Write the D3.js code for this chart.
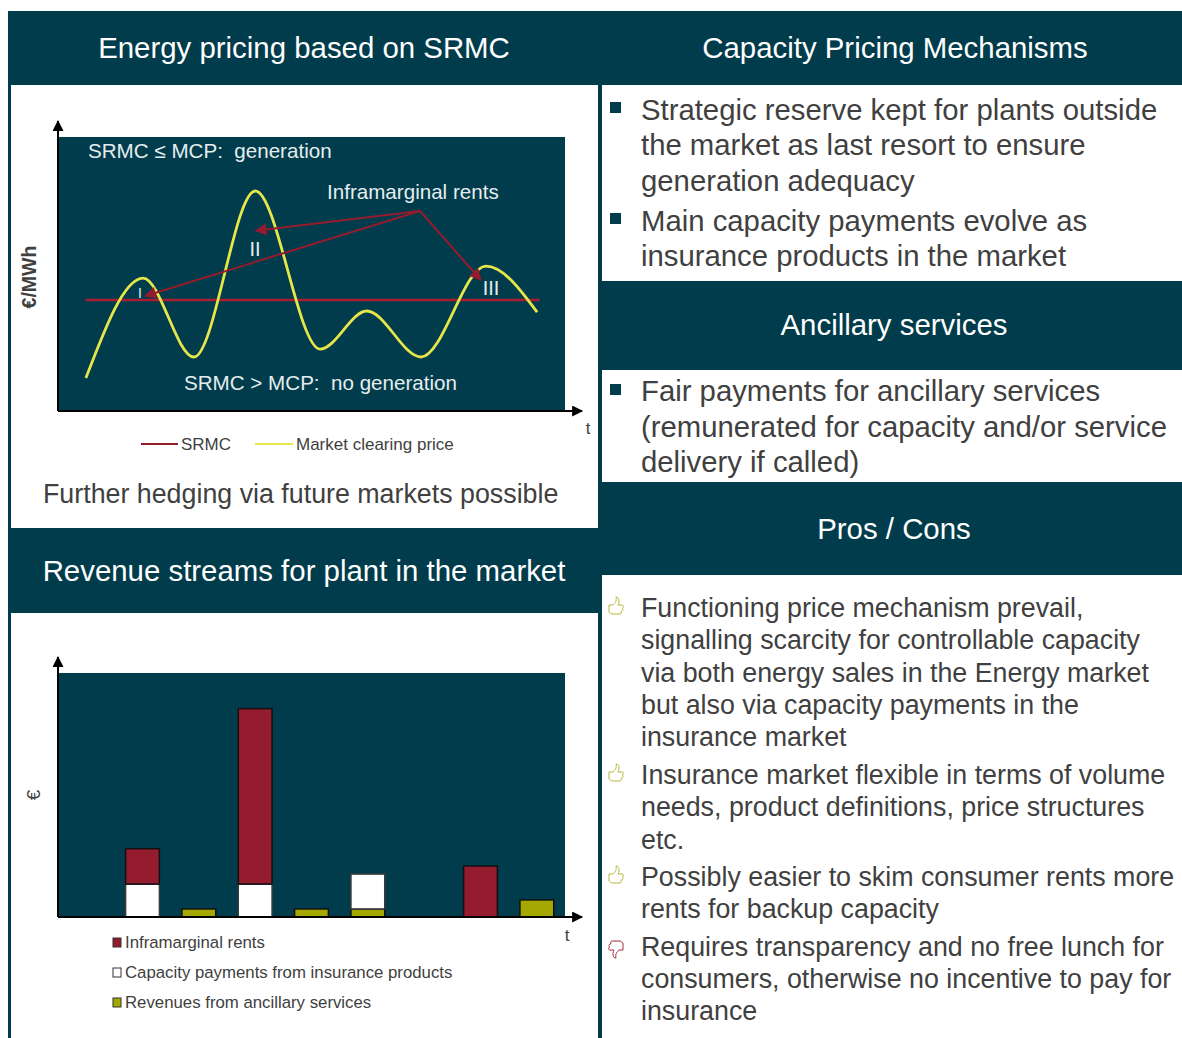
<!DOCTYPE html>
<html>
<head>
<meta charset="utf-8">
<script src="https://cdn.jsdelivr.net/npm/d3@7"></script>
<style>
  html, body { margin: 0; background: #fff; }
  svg { display: block; }
  text { font-family: "Liberation Sans", Arial, sans-serif; white-space: pre; }
</style>
</head>
<body>
<div id="chart"></div>
<script>
// price curve, axes run 0-100 in both directions
const priceTime = [5.5, 16.8, 26.8, 38.9, 51.7, 60.9, 71.6, 84.4, 94.5];
const priceValue = [12, 48.5, 19.7, 80.3, 22.6, 36.5, 19.7, 52.9, 36.1];
const srmcTime = [5.4, 95];
const srmcValue = [40.5, 40.5];

// arrows from the "Inframarginal rents" label
const rentSource = [71.4, 73];
const rentTargets = [[17.2, 42], [39, 65.8], [83.4, 47.8]];

// stacked revenue bars, slot 0 and 6 are empty
const slots = ["t0", "t1", "t2", "t3", "t4", "t5", "t6", "t7", "t8"];
const capacity = [0, 13.5, 0, 13.5, 0, 14.3, 0, 0, 0];
const rents = [0, 14.5, 0, 71.9, 0, 0, 0, 20.9, 0];
const ancillary = [0, 0, 3.3, 0, 3.3, 3.3, 0, 0, 7];

const barLegend = ["Inframarginal rents", "Capacity payments from insurance products", "Revenues from ancillary services"];

const reserveLines = ["Strategic reserve kept for plants outside", "the market as last resort to ensure", "generation adequacy"];
const paymentLines = ["Main capacity payments evolve as", "insurance products in the market"];
const ancillaryLines = ["Fair payments for ancillary services", "(remunerated for capacity and/or service", "delivery if called)"];
const prosCons = [
    { good: true, lines: ["Functioning price mechanism prevail,", "signalling scarcity for controllable capacity", "via both energy sales in the Energy market", "but also via capacity payments in the", "insurance market"] },
    { good: true, lines: ["Insurance market flexible in terms of volume", "needs, product definitions, price structures", "etc."] },
    { good: true, lines: ["Possibly easier to skim consumer rents more", "rents for backup capacity"] },
    { good: false, lines: ["Requires transparency and no free lunch for", "consumers, otherwise no incentive to pay for", "insurance"] }
];

const dark = "#003c4b";
const crimson = "#951b2e";
const olive = "#a5a800";
const grey = "#404040";
const labelColor = "#e6edef";

const width = 1182;
const height = 1038;

const svg = d3.select("#chart").append("svg")
    .attr("width", width)
    .attr("height", height)
    .attr("viewBox", `0 0 ${width} ${height}`);

const defs = svg.append("defs");
function addMarker(id, color, w, h) {
    defs.append("marker")
        .attr("id", id)
        .attr("viewBox", "0 0 10 10")
        .attr("refX", 9)
        .attr("refY", 5)
        .attr("markerUnits", "userSpaceOnUse")
        .attr("markerWidth", w)
        .attr("markerHeight", h)
        .attr("orient", "auto")
        .append("path")
        .attr("d", "M0,0L10,5L0,10Z")
        .attr("fill", color);
}
addMarker("axis-arrow", "#000", 12, 11);
addMarker("rent-arrow", crimson, 14, 12);

// background bands
const bands = [
    [8, 11, 1174, 74],
    [8, 85, 3, 953],
    [598, 85, 4, 953],
    [8, 528, 590, 85],
    [602, 281, 580, 89],
    [602, 482, 580, 93]
];
svg.append("g").selectAll("rect")
    .data(bands)
    .enter()
    .append("rect")
    .attr("x", d => d[0])
    .attr("y", d => d[1])
    .attr("width", d => d[2])
    .attr("height", d => d[3])
    .attr("fill", dark);

const headers = [
    ["Energy pricing based on SRMC", 304, 58],
    ["Capacity Pricing Mechanisms", 895, 58],
    ["Revenue streams for plant in the market", 304, 581],
    ["Ancillary services", 894, 335],
    ["Pros / Cons", 894, 539]
];
svg.append("g").selectAll("text")
    .data(headers)
    .enter()
    .append("text")
    .attr("x", d => d[1])
    .attr("y", d => d[2])
    .attr("text-anchor", "middle")
    .attr("fill", "#fff")
    .style("font-size", "29.4px")
    .text(d => d[0]);

// top left: price chart
const x1 = d3.scaleLinear().domain([0, 100]).range([58, 565]);
const y1 = d3.scaleLinear().domain([0, 100]).range([411, 137]);

svg.append("rect")
    .attr("x", x1(0))
    .attr("y", y1(100))
    .attr("width", x1(100) - x1(0))
    .attr("height", y1(0) - y1(100))
    .attr("fill", dark);

function drawAxes(xs, ys, topY) {
    const g = svg.append("g").attr("stroke", "#000").attr("stroke-width", 2).attr("fill", "none");
    g.append("line")
        .attr("x1", xs(0)).attr("y1", ys(0))
        .attr("x2", xs(0)).attr("y2", topY)
        .attr("marker-end", "url(#axis-arrow)");
    g.append("line")
        .attr("x1", xs(0)).attr("y1", ys(0))
        .attr("x2", 582).attr("y2", ys(0))
        .attr("marker-end", "url(#axis-arrow)");
}
drawAxes(x1, y1, 121);

const priceLine = d3.line()
    .x(d => x1(d[0]))
    .y(d => y1(d[1]))
    .curve(d3.curveMonotoneX);

svg.append("path")
    .attr("d", priceLine(d3.zip(srmcTime, srmcValue)))
    .attr("fill", "none")
    .attr("stroke", "#a81c34")
    .attr("stroke-width", 2.6);

svg.append("path")
    .attr("d", priceLine(d3.zip(priceTime, priceValue)))
    .attr("fill", "none")
    .attr("stroke", "#e6e64a")
    .attr("stroke-width", 2.8);

svg.append("g").selectAll("line")
    .data(rentTargets)
    .enter()
    .append("line")
    .attr("x1", x1(rentSource[0]))
    .attr("y1", y1(rentSource[1]))
    .attr("x2", d => x1(d[0]))
    .attr("y2", d => y1(d[1]))
    .attr("stroke", crimson)
    .attr("stroke-width", 2)
    .attr("marker-end", "url(#rent-arrow)");

const chartLabels = [
    ["SRMC ≤ MCP:  generation", 88, 158, 20.6, "start", labelColor],
    ["Inframarginal rents", 327, 199, 20.6, "start", labelColor],
    ["SRMC > MCP:  no generation", 184, 390, 20.6, "start", labelColor],
    ["I", 140, 298, 14, "middle", labelColor],
    ["II", 255, 256, 20, "middle", labelColor],
    ["III", 491, 295, 20, "middle", labelColor],
    ["t", 588, 434, 17, "middle", grey],
    ["SRMC", 181, 450, 17, "start", grey],
    ["Market clearing price", 296, 450, 17, "start", grey],
    ["Further hedging via future markets possible", 43, 503, 26.8, "start", grey],
    ["t", 567, 941, 17, "middle", grey]
];
svg.append("g").selectAll("text")
    .data(chartLabels)
    .enter()
    .append("text")
    .attr("x", d => d[1])
    .attr("y", d => d[2])
    .attr("text-anchor", d => d[4])
    .attr("fill", d => d[5])
    .style("font-size", d => d[3] + "px")
    .text(d => d[0]);

svg.append("text")
    .attr("transform", "translate(36,277) rotate(-90)")
    .attr("text-anchor", "middle")
    .attr("fill", grey)
    .style("font-size", "19.5px")
    .style("font-weight", "bold")
    .text("€/MWh");

svg.append("text")
    .attr("transform", "translate(40,795) rotate(-90)")
    .attr("text-anchor", "middle")
    .attr("fill", grey)
    .style("font-size", "19px")
    .text("€");

[[141, 178, crimson], [255, 293, "#e6e64a"]].forEach(d => {
    svg.append("line")
        .attr("x1", d[0]).attr("x2", d[1])
        .attr("y1", 444).attr("y2", 444)
        .attr("stroke", d[2])
        .attr("stroke-width", 2);
});

// bottom left: revenue bars
const x2 = d3.scaleLinear().domain([0, 100]).range([58, 565]);
const y2 = d3.scaleLinear().domain([0, 100]).range([917, 673]);
const xBand = d3.scaleBand().domain(slots).range([58, 565]).paddingInner(0.4).paddingOuter(0.2);

svg.append("rect")
    .attr("x", x2(0))
    .attr("y", y2(100))
    .attr("width", x2(100) - x2(0))
    .attr("height", y2(0) - y2(100))
    .attr("fill", dark);

const stackData = slots.map((s, i) => ({ slot: s, ancillary: ancillary[i], capacity: capacity[i], rents: rents[i] }));
const stack = d3.stack().keys(["ancillary", "capacity", "rents"])(stackData);
const barFill = { ancillary: olive, capacity: "#fff", rents: crimson };
const barStroke = { ancillary: "#111", capacity: "#3a3a3a", rents: "#111" };

svg.append("g").selectAll("g")
    .data(stack)
    .enter()
    .append("g")
    .attr("fill", d => barFill[d.key])
    .attr("stroke", d => barStroke[d.key])
    .attr("stroke-width", 1.5)
    .selectAll("rect")
    .data(d => d.filter(p => p[1] > p[0]))
    .enter()
    .append("rect")
    .attr("x", d => xBand(d.data.slot))
    .attr("y", d => y2(d[1]))
    .attr("width", xBand.bandwidth())
    .attr("height", d => y2(d[0]) - y2(d[1]));

drawAxes(x2, y2, 657);

const legendFill = [crimson, "#fff", olive];
const legendY = d3.scalePoint().domain(barLegend).range([942, 1002]);
const legendRows = svg.append("g").selectAll("g")
    .data(barLegend)
    .enter()
    .append("g")
    .attr("transform", d => `translate(113,${legendY(d)})`);
legendRows.append("rect")
    .attr("x", 0)
    .attr("y", -4)
    .attr("width", 8)
    .attr("height", 9)
    .attr("fill", (d, i) => legendFill[i])
    .attr("stroke", "#333")
    .attr("stroke-width", 1);
legendRows.append("text")
    .attr("x", 12)
    .attr("y", 6)
    .attr("fill", grey)
    .style("font-size", "16.8px")
    .text(d => d);

// right column text
function drawLines(lines, baselines, fontSize) {
    svg.append("g").selectAll("text")
        .data(lines)
        .enter()
        .append("text")
        .attr("x", 641)
        .attr("y", (d, i) => baselines[i])
        .attr("fill", grey)
        .style("font-size", fontSize + "px")
        .text(d => d);
}

function drawSquare(y) {
    svg.append("rect")
        .attr("x", 610)
        .attr("y", y)
        .attr("width", 11)
        .attr("height", 11)
        .attr("fill", dark);
}

drawLines(reserveLines, [120, 155, 191], 29.3);
drawLines(paymentLines, [231, 266], 29.3);
drawLines(ancillaryLines, [401, 437, 472], 29.3);
drawSquare(102);
drawSquare(213);
drawSquare(384);

const thumb = "M-7,-1 L-3,-1 C-1,-3 1,-5 0,-9 C3,-9 4,-5 2,-1 L6,-1 C8,-1 8,2 6,2 C8,3 7,5 5,5 C6,7 5,8 3,8 L-3,8 C-5,8 -6,7 -7,6 Z";
const prosBaselines = [[617, 649, 682, 714, 746], [784, 816, 849], [886, 918], [956, 988, 1020]];
const iconY = [606, 773, 875, 949];

prosCons.forEach((item, i) => {
    drawLines(item.lines, prosBaselines[i], 26.8);
    svg.append("path")
        .attr("d", thumb)
        .attr("transform", `translate(616,${iconY[i]})` + (item.good ? "" : " rotate(180)"))
        .attr("fill", "none")
        .attr("stroke", item.good ? "#b5b83a" : "#a8283c")
        .attr("stroke-width", 1);
});
</script>
</body>
</html>
